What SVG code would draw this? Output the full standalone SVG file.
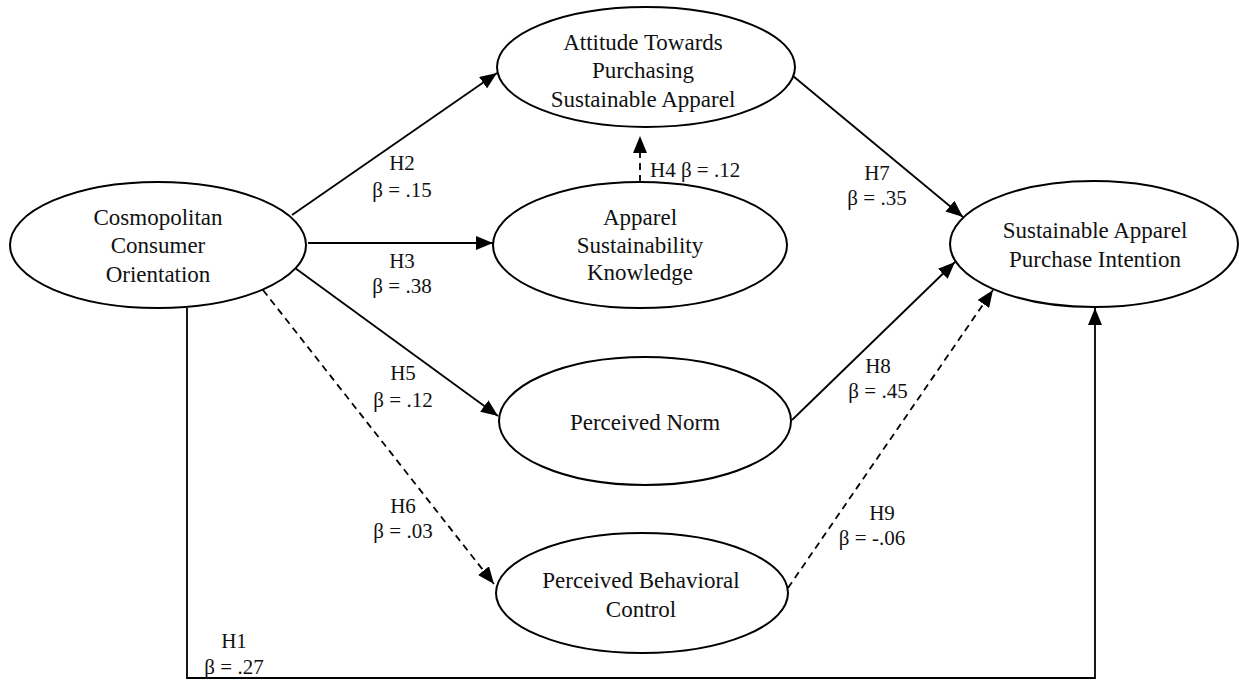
<svg xmlns="http://www.w3.org/2000/svg" width="1239" height="681" viewBox="0 0 1239 681">
<style>
.node{fill:#fff;stroke:#000;stroke-width:2}
.nt{font-family:'Liberation Serif','Times New Roman','DejaVu Serif',serif;font-size:23px;fill:#111;text-anchor:middle}
.lb{font-family:'Liberation Serif','Times New Roman','DejaVu Serif',serif;font-size:21px;fill:#111;text-anchor:middle}
.ln{fill:none;stroke:#000;stroke-width:1.8}
.ds{stroke-dasharray:7 5}
</style>
<defs>
<marker id="ah" markerUnits="userSpaceOnUse" markerWidth="17" markerHeight="14" refX="17" refY="7" orient="auto">
<path d="M0,0 L17,7 L0,14 z" fill="#000"/>
</marker>
</defs>
<rect width="1239" height="681" fill="#fff"/>
<g id="connectors">
<line class="ln" x1="292" y1="215" x2="497" y2="73" marker-end="url(#ah)"/>
<line class="ln" x1="308" y1="243" x2="493" y2="243" marker-end="url(#ah)"/>
<line class="ln" x1="295" y1="268" x2="498" y2="416" marker-end="url(#ah)"/>
<line class="ln ds" x1="263" y1="290" x2="494" y2="584" marker-end="url(#ah)"/>
<line class="ln ds" x1="640" y1="182" x2="640" y2="136" marker-end="url(#ah)"/>
<line class="ln" x1="793" y1="76" x2="963" y2="217" marker-end="url(#ah)"/>
<line class="ln" x1="792" y1="420" x2="955" y2="262" marker-end="url(#ah)"/>
<line class="ln ds" x1="788" y1="588" x2="993" y2="290" marker-end="url(#ah)"/>
<polyline class="ln" points="187,308 187,678 1095,678 1095,308" marker-end="url(#ah)"/>
<text class="lb" x="402" y="170" font-family="Liberation Serif">H2</text>
<text class="lb" x="402" y="197">β = .15</text>
<text class="lb" x="402" y="268">H3</text>
<text class="lb" x="402" y="293">β = .38</text>
<text class="lb" x="403" y="380">H5</text>
<text class="lb" x="403" y="407">β = .12</text>
<text class="lb" x="403" y="513">H6</text>
<text class="lb" x="403" y="538">β = .03</text>
<text class="lb" x="650" y="177" style="text-anchor:start">H4  β = .12</text>
<text class="lb" x="877" y="180">H7</text>
<text class="lb" x="877" y="205">β = .35</text>
<text class="lb" x="878" y="373">H8</text>
<text class="lb" x="878" y="398">β = .45</text>
<text class="lb" x="882" y="520">H9</text>
<text class="lb" x="872" y="545">β = -.06</text>
<text class="lb" x="234" y="648">H1</text>
<text class="lb" x="234" y="674">β = .27</text>
</g>
<g id="cos">
<ellipse class="node" cx="158" cy="245" rx="148" ry="63"/>
<text class="nt" x="158" y="225">Cosmopolitan</text>
<text class="nt" x="158" y="253">Consumer</text>
<text class="nt" x="158" y="282">Orientation</text>
</g>
<g id="att">
<ellipse class="node" cx="646" cy="67" rx="149" ry="60"/>
<text class="nt" x="643" y="50">Attitude Towards</text>
<text class="nt" x="643" y="78">Purchasing</text>
<text class="nt" x="643" y="107">Sustainable Apparel</text>
</g>
<g id="ask">
<ellipse class="node" cx="640" cy="245" rx="147" ry="63"/>
<text class="nt" x="640" y="225">Apparel</text>
<text class="nt" x="640" y="253">Sustainability</text>
<text class="nt" x="640" y="280">Knowledge</text>
</g>
<g id="pn">
<ellipse class="node" cx="645" cy="421" rx="146" ry="64"/>
<text class="nt" x="645" y="430">Perceived Norm</text>
</g>
<g id="pbc">
<ellipse class="node" cx="642" cy="593" rx="146" ry="60"/>
<text class="nt" x="641" y="588">Perceived Behavioral</text>
<text class="nt" x="641" y="617">Control</text>
</g>
<g id="sapi">
<ellipse class="node" cx="1094" cy="244" rx="144" ry="63"/>
<text class="nt" x="1095" y="238">Sustainable Apparel</text>
<text class="nt" x="1095" y="267">Purchase Intention</text>
</g>
</svg>
